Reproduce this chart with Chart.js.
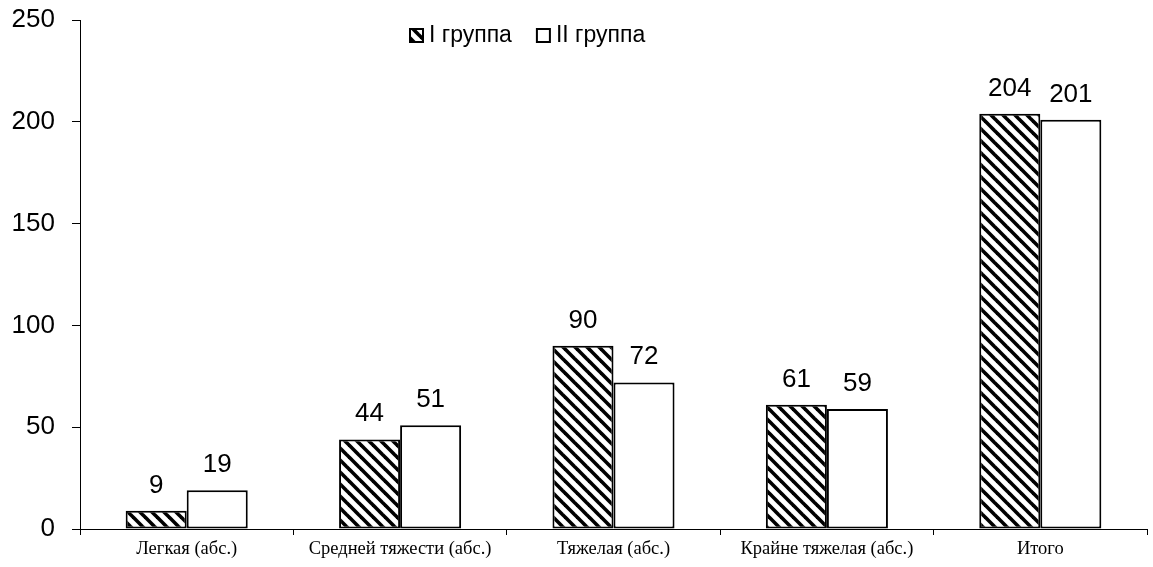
<!DOCTYPE html>
<html>
<head>
<meta charset="utf-8">
<script src="https://cdn.jsdelivr.net/npm/chart.js@4.4.0/dist/chart.umd.min.js"></script>
<style>
html,body{margin:0;padding:0;background:#fff;}
#wrap{width:1153px;height:567px;position:relative;}
</style>
</head>
<body>
<div id="wrap"><canvas id="c" width="1153" height="567"></canvas></div>
<script>
const categories = ['Легкая (абс.)', 'Средней тяжести (абс.)', 'Тяжелая (абс.)', 'Крайне тяжелая (абс.)', 'Итого'];
const group1 = [9, 44, 90, 61, 204];
const group2 = [19, 51, 72, 59, 201];
const seriesNames = ['I группа', 'II группа'];
const yTicks = [0, 50, 100, 150, 200, 250];

function makeHatch() {
  const s = 12;
  const pc = document.createElement('canvas');
  pc.width = s; pc.height = s;
  const p = pc.getContext('2d');
  p.fillStyle = '#fff';
  p.fillRect(0, 0, s, s);
  p.strokeStyle = '#000';
  p.lineWidth = 3.6;
  for (const k of [-s, 0, s]) {
    p.beginPath();
    p.moveTo(k - 2, -2);
    p.lineTo(k + s + 2, s + 2);
    p.stroke();
  }
  return p.createPattern(pc, 'repeat');
}
const ctx = document.getElementById('c').getContext('2d');
const hatch = makeHatch();

const valueLabels = {
  id: 'valueLabels',
  afterDatasetsDraw(chart) {
    const c = chart.ctx;
    c.save();
    c.font = '26px "Liberation Sans", Arial, sans-serif';
    c.fillStyle = '#000';
    c.textAlign = 'center';
    c.textBaseline = 'alphabetic';
    chart.data.datasets.forEach((ds, i) => {
      chart.getDatasetMeta(i).data.forEach((el, j) => {
        c.fillText(String(ds.data[j]), el.x, el.y - 18);
      });
    });
    c.restore();
  }
};

const customLegend = {
  id: 'customLegend',
  afterDraw(chart) {
    const c = chart.ctx;
    c.save();
    c.font = '23px "Liberation Sans", Arial, sans-serif';
    c.textBaseline = 'middle';
    c.textAlign = 'left';
    const y = 35;
    let x = 410;
    chart.data.datasets.forEach((ds, i) => {
      c.fillStyle = ds.backgroundColor;
      c.fillRect(x, y - 6, 13, 13);
      c.strokeStyle = '#000';
      c.lineWidth = 2;
      c.strokeRect(x, y - 6, 13, 13);
      c.fillStyle = '#000';
      c.fillText(ds.label, x + 19, y + 1);
      x += 19 + c.measureText(ds.label).width + 25;
    });
    c.restore();
  }
};

new Chart(ctx, {
  type: 'bar',
  data: {
    labels: categories,
    datasets: [
      { label: seriesNames[0], data: group1, backgroundColor: hatch, borderColor: '#000', borderWidth: 2, borderSkipped: false },
      { label: seriesNames[1], data: group2, backgroundColor: '#fff', borderColor: '#000', borderWidth: 2, borderSkipped: false }
    ]
  },
  options: {
    responsive: false,
    animation: false,
    devicePixelRatio: 1,
    layout: { padding: { top: 20, right: 6, left: 0, bottom: 0 } },
    datasets: { bar: { barPercentage: 1.0, categoryPercentage: 0.572 } },
    plugins: { legend: { display: false }, tooltip: { enabled: false } },
    scales: {
      x: {
        afterFit(s) { s.height = 38; s.paddingLeft = 0; s.paddingRight = 0; },
        grid: { display: true, drawOnChartArea: false, drawTicks: true, tickLength: 6, color: '#000', offset: true },
        border: { display: true, color: '#000', width: 1 },
        ticks: { color: '#000', padding: 3, maxRotation: 0, font: { family: '"Liberation Serif", "Times New Roman", serif', size: 18.5 } }
      },
      y: {
        min: 0, max: 250,
        afterFit(s) { s.width = 80; s.paddingTop = 0; s.paddingBottom = 0; },
        afterBuildTicks(s) { s.ticks = yTicks.map(v => ({ value: v })); },
        grid: { display: true, drawOnChartArea: false, drawTicks: true, tickLength: 8, color: '#000' },
        border: { display: true, color: '#000', width: 1 },
        ticks: { color: '#000', padding: 17, font: { family: '"Liberation Sans", Arial, sans-serif', size: 26 } }
      }
    }
  },
  plugins: [valueLabels, customLegend]
});
</script>
</body>
</html>
